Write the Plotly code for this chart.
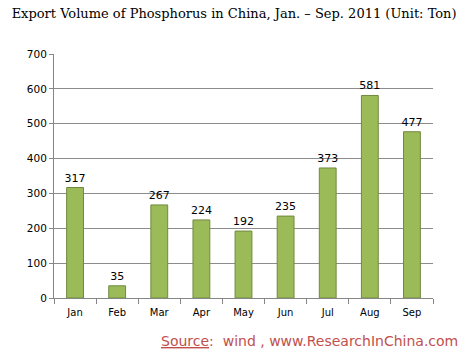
import plotly.graph_objects as go

months = ["Jan", "Feb", "Mar", "Apr", "May", "Jun", "Jul", "Aug", "Sep"]
volume = [317, 35, 267, 224, 192, 235, 373, 581, 477]
y_ticks = [0, 100, 200, 300, 400, 500, 600, 700]

fig = go.Figure()
fig.add_trace(go.Bar(
    x=months, y=volume, width=0.4,
    marker=dict(color="#9BBB59", line=dict(color="#71893F", width=1)),
    text=[str(v) for v in volume], textposition="outside", constraintext="none",
    textfont=dict(family="DejaVu Sans", size=11, color="#000000"),
    cliponaxis=False,
))

fig.update_layout(
    width=465, height=354,
    margin=dict(l=54, r=32, t=54, b=56),
    paper_bgcolor="white", plot_bgcolor="white",
    showlegend=False,
    bargap=0.6,
    title=dict(text="Export Volume of Phosphorus in China, Jan. – Sep. 2011 (Unit: Ton)",
               font=dict(family="DejaVu Serif", size=13, color="#000000"),
               x=0.025, xanchor="left", y=0.962, yanchor="middle"),
    xaxis=dict(showline=True, linecolor="#868686", linewidth=1,
               ticks="outside", tickson="boundaries", ticklen=5, tickcolor="#868686",
               ticklabelstandoff=5,
               tickfont=dict(family="DejaVu Sans", size=10, color="#000000"),
               showgrid=False),
    yaxis=dict(range=[0, 700], tickvals=y_ticks, showline=True, linecolor="#868686",
               linewidth=1, ticks="outside", ticklen=4, tickcolor="#868686",
               gridcolor="#8C8C8C", gridwidth=1,
               tickfont=dict(family="DejaVu Sans", size=10.5, color="#000000"),
               zeroline=False),
    annotations=[dict(text="<u>Source</u>:  wind , www.ResearchInChina.com",
                      xref="paper", yref="paper", x=1.07, y=-0.175,
                      xanchor="right", yanchor="middle", showarrow=False,
                      font=dict(family="DejaVu Sans", size=14, color="#C0504D"))],
)

fig.write_html("out.html")
